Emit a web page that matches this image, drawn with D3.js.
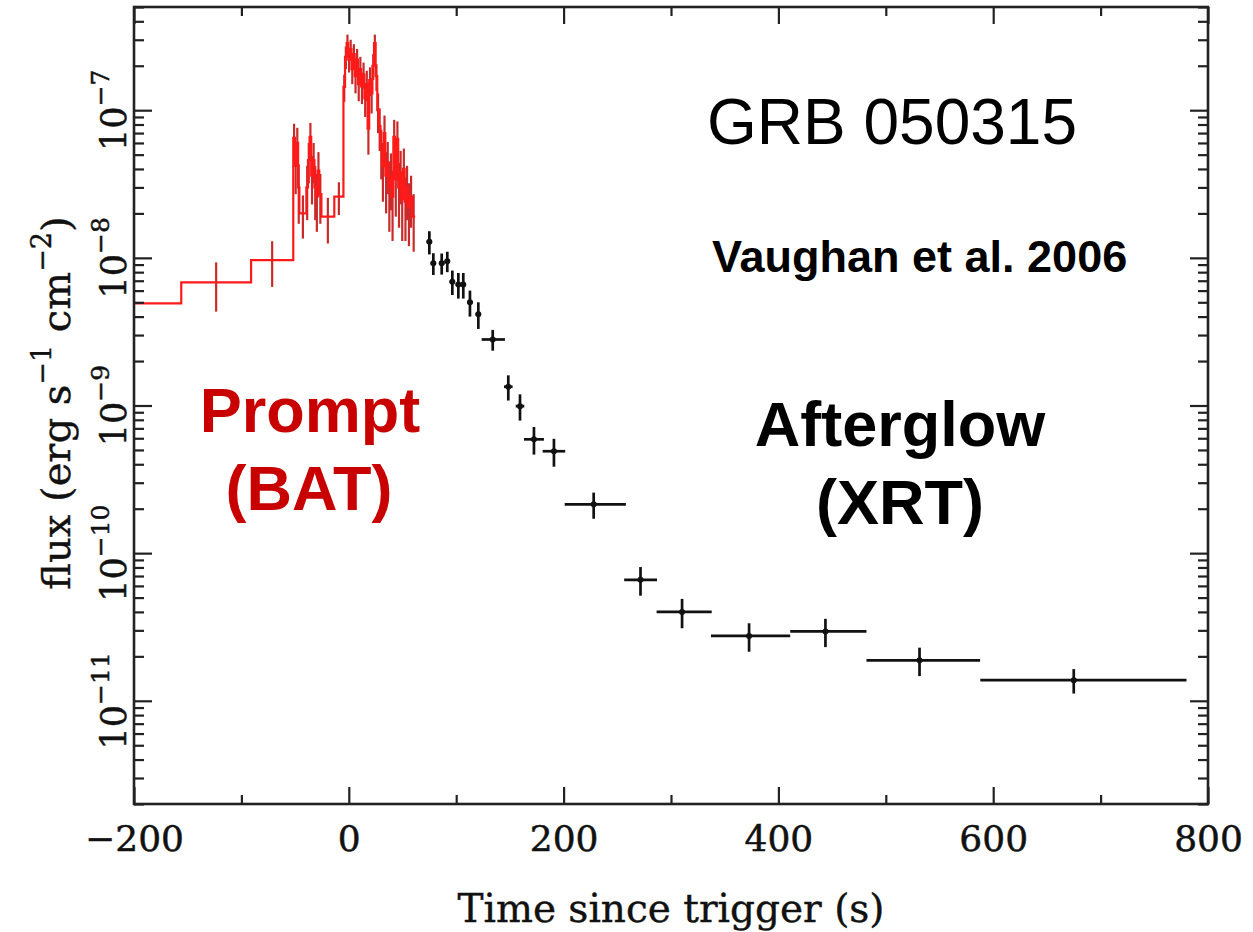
<!DOCTYPE html>
<html>
<head>
<meta charset="utf-8">
<script src="https://cdn.jsdelivr.net/npm/d3@7"></script>
<style>
  html, body { margin: 0; padding: 0; background: #ffffff; }
  svg { display: block; }
</style>
</head>
<body>
<svg id="chart" width="1253" height="932"></svg>
<script>
// ---- BAT prompt light curve: histogram bins (s), flux and 1-sigma error (erg s^-1 cm^-2)
const batBinStart = [-260, -156, -91, -51.7, -50.2, -48.7, -47.2, -46.0, -39.5, -38.0, -36.5, -35.0, -33.5, -32.0, -30.5, -29.0, -27.5, -25.5, -13.5,
  -5.0, -3.5, -2.0, -0.5, 1.0, 2.5, 4.0, 5.5, 7.0, 8.5, 10.0, 11.5, 13.0, 14.5, 16.0, 17.5, 19.0, 20.5, 22.0, 23.5, 25.0, 26.5, 28.0, 29.5,
  31.0, 32.5, 34.0, 35.5, 37.0, 38.5, 40.0, 41.5, 43.0, 44.5, 46.0, 47.5, 49.0, 50.5, 52.0, 53.5, 55.0, 57.0, 59.0];
const batBinEnd = [-156, -91, -51.7, -50.2, -48.7, -47.2, -46.0, -39.5, -38.0, -36.5, -35.0, -33.5, -32.0, -30.5, -29.0, -27.5, -25.5, -13.5, -5.0,
  -3.5, -2.0, -0.5, 1.0, 2.5, 4.0, 5.5, 7.0, 8.5, 10.0, 11.5, 13.0, 14.5, 16.0, 17.5, 19.0, 20.5, 22.0, 23.5, 25.0, 26.5, 28.0, 29.5, 31.0,
  32.5, 34.0, 35.5, 37.0, 38.5, 40.0, 41.5, 43.0, 44.5, 46.0, 47.5, 49.0, 50.5, 52.0, 53.5, 55.0, 57.0, 59.0, 61.8];
const batFlux = [4.92e-9, 6.82e-9, 9.66e-9, 6.5e-8, 4.2e-8, 6.0e-8, 3.0e-8, 2.0e-8, 3.0e-8, 4.6e-8, 6.6e-8, 3.6e-8, 4.6e-8, 3.0e-8, 2.6e-8, 3.9e-8, 2.7e-8, 1.9e-8, 2.6e-8,
  1.44e-7, 2.3e-7, 2.85e-7, 2.2e-7, 2.6e-7, 1.9e-7, 2.4e-7, 1.7e-7, 2.2e-7, 1.5e-7, 1.9e-7, 1.45e-7, 1.75e-7, 1.2e-7, 1.5e-7, 7.5e-8, 1.6e-7, 1.3e-7, 2.0e-7, 2.85e-7, 1.7e-7, 1.0e-7, 7.8e-8, 5.4e-8,
  4.2e-8, 7.0e-8, 3.6e-8, 4.4e-8, 3.0e-8, 3.6e-8, 2.6e-8, 6.6e-8, 3.4e-8, 6.4e-8, 3.0e-8, 3.8e-8, 2.5e-8, 4.0e-8, 2.4e-8, 3.0e-8, 2.2e-8, 2.6e-8, 1.9e-8];
const batFluxErr = [2.4e-9, 2.5e-9, 3.3e-9, 1.6e-8, 1.5e-8, 1.6e-8, 1.3e-8, 6.5e-9, 1.2e-8, 1.4e-8, 1.6e-8, 1.3e-8, 1.4e-8, 1.2e-8, 1.1e-8, 1.3e-8, 1.0e-8, 6.5e-9, 6.5e-9,
  3.0e-8, 4.0e-8, 4.0e-8, 4.0e-8, 4.0e-8, 4.0e-8, 4.0e-8, 4.0e-8, 4.0e-8, 3.5e-8, 4.0e-8, 3.5e-8, 3.5e-8, 3.0e-8, 3.5e-8, 2.5e-8, 3.5e-8, 3.5e-8, 4.0e-8, 4.0e-8, 3.5e-8, 3.0e-8, 2.5e-8, 2.0e-8,
  1.8e-8, 2.2e-8, 1.6e-8, 1.7e-8, 1.5e-8, 1.5e-8, 1.3e-8, 2.0e-8, 1.5e-8, 2.0e-8, 1.4e-8, 1.5e-8, 1.2e-8, 1.5e-8, 1.1e-8, 1.2e-8, 1.0e-8, 1.0e-8, 8.0e-9];

// ---- XRT afterglow points: time (s), asymmetric time extent, flux and 1-sigma error
const xrtTime = [75.0, 78.7, 86.5, 91.7, 96.4, 102.0, 106.6, 112.8, 120.6, 134.0, 148.5, 159.4, 172.4, 191.0, 228.0, 271.6, 310.3, 372.7, 443.8, 531.4, 675.0];
const xrtTimeErrLo = [2.5, 2.5, 2.5, 2.5, 2.5, 2.5, 2.5, 2.5, 2.5, 10.3, 4.0, 4.0, 9.3, 10.5, 27.0, 15.2, 23.7, 35.5, 32.8, 49.4, 87.0];
const xrtTimeErrHi = [2.5, 2.5, 2.5, 2.5, 2.5, 2.5, 2.5, 2.5, 2.5, 11.4, 4.0, 4.0, 9.3, 10.5, 30.0, 15.4, 27.6, 38.3, 38.2, 56.4, 105.0];
const xrtFlux = [1.285e-8, 9.2e-9, 9.2e-9, 9.5e-9, 6.9e-9, 6.6e-9, 6.6e-9, 5.0e-9, 4.15e-9, 2.8e-9, 1.34e-9, 9.9e-10, 5.9e-10, 4.9e-10, 2.14e-10, 6.6e-11, 4.0e-11, 2.75e-11, 2.95e-11, 1.88e-11, 1.38e-11];
const xrtFluxErr = [2.3e-9, 1.55e-9, 1.5e-9, 1.5e-9, 1.3e-9, 1.3e-9, 1.3e-9, 1.0e-9, 8.5e-10, 4.5e-10, 2.6e-10, 2.0e-10, 1.25e-10, 1.05e-10, 4.3e-11, 1.45e-11, 9e-12, 6e-12, 6.4e-12, 4.1e-12, 2.6e-12];

// ---- axis ticks and labels
const xMajorTicks = [-200, 0, 200, 400, 600, 800];
const xMinorTicks = [-100, 100, 300, 500, 700];
const yMajorTicks = [1e-11, 1e-10, 1e-9, 1e-8, 1e-7];
const yTickExponents = ["\u221211", "\u221210", "\u22129", "\u22128", "\u22127"];

// ---- layout
const plot = { left: 134, right: 1208, top: 7, bottom: 804 };
const axisColor = "#222222";
const textColor = "#111111";
const tickFont = "'DejaVu Serif', serif";
const labelFont = "'Liberation Sans', Arial, sans-serif";

const x = d3.scaleLinear().domain([-200, 800]).range([plot.left, plot.right]);
const y = d3.scaleLog().domain([2e-12, 5e-7]).range([plot.bottom, plot.top]);

const svg = d3.select("#chart");
svg.append("rect").attr("width", 1253).attr("height", 932).attr("fill", "#ffffff");

svg.append("defs").append("clipPath").attr("id", "plotClip")
  .append("rect")
  .attr("x", plot.left).attr("y", plot.top)
  .attr("width", plot.right - plot.left).attr("height", plot.bottom - plot.top);

const data = svg.append("g").attr("clip-path", "url(#plotClip)");

// BAT histogram drawn as a stepped line with error bars at bin centres
const batBins = batFlux.map((f, i) => ({ t0: batBinStart[i], t1: batBinEnd[i], f, e: batFluxErr[i] }));
const stepPoints = batBins.flatMap(b => [[b.t0, b.f], [b.t1, b.f]]);
const line = d3.line().x(d => x(d[0])).y(d => y(d[1]));

data.append("g").selectAll("line").data(batBins).join("line")
  .attr("x1", d => x((d.t0 + d.t1) / 2)).attr("x2", d => x((d.t0 + d.t1) / 2))
  .attr("y1", d => y(d.f + d.e)).attr("y2", d => y(Math.max(d.f - d.e, 1e-13)))
  .attr("stroke", "#c92a2a").attr("stroke-width", 2.2);

data.append("path").attr("d", line(stepPoints))
  .attr("fill", "none").attr("stroke", "#ff1a1a").attr("stroke-width", 2.2)
  .attr("stroke-linejoin", "miter");

// XRT points with error crosses
const xrt = xrtFlux.map((f, i) => ({ t: xrtTime[i], lo: xrtTimeErrLo[i], hi: xrtTimeErrHi[i], f, e: xrtFluxErr[i] }));
const xg = data.append("g").selectAll("g").data(xrt).join("g");
xg.append("line")
  .attr("x1", d => x(d.t - d.lo)).attr("x2", d => x(d.t + d.hi))
  .attr("y1", d => y(d.f)).attr("y2", d => y(d.f))
  .attr("stroke", "#111").attr("stroke-width", 2.7);
xg.append("line")
  .attr("x1", d => x(d.t)).attr("x2", d => x(d.t))
  .attr("y1", d => y(d.f + d.e)).attr("y2", d => y(d.f - d.e))
  .attr("stroke", "#111").attr("stroke-width", 2.7);
xg.append("circle")
  .attr("cx", d => x(d.t)).attr("cy", d => y(d.f)).attr("r", 3)
  .attr("fill", "#111");

// ---- axes: ticks point inward on all four sides
function styleAxis(g) {
  g.select(".domain").remove();
  g.selectAll(".tick line").attr("stroke", axisColor).attr("stroke-width", 2.2);
}
const yMinorTicks = y.ticks().filter(v => !yMajorTicks.some(m => Math.abs(m - v) / m < 1e-6));

svg.append("g").attr("transform", `translate(0,${plot.bottom})`)
  .call(d3.axisBottom(x).tickValues(xMajorTicks).tickSizeInner(-17).tickSizeOuter(0)
    .tickPadding(21).tickFormat(d3.format("d")))
  .call(styleAxis)
  .call(g => g.selectAll(".tick text")
    .attr("font-family", tickFont).attr("font-size", 36)
    .attr("fill", textColor).attr("stroke", textColor).attr("stroke-width", 0.5));
svg.append("g").attr("transform", `translate(0,${plot.bottom})`)
  .call(d3.axisBottom(x).tickValues(xMinorTicks).tickSizeInner(-9).tickSizeOuter(0).tickFormat(""))
  .call(styleAxis);
svg.append("g").attr("transform", `translate(0,${plot.top})`)
  .call(d3.axisTop(x).tickValues(xMajorTicks).tickSizeInner(-17).tickSizeOuter(0).tickFormat(""))
  .call(styleAxis);
svg.append("g").attr("transform", `translate(0,${plot.top})`)
  .call(d3.axisTop(x).tickValues(xMinorTicks).tickSizeInner(-9).tickSizeOuter(0).tickFormat(""))
  .call(styleAxis);

svg.append("g").attr("transform", `translate(${plot.left},0)`)
  .call(d3.axisLeft(y).tickValues(yMajorTicks).tickSizeInner(-18).tickSizeOuter(0).tickFormat(""))
  .call(styleAxis);
svg.append("g").attr("transform", `translate(${plot.left},0)`)
  .call(d3.axisLeft(y).tickValues(yMinorTicks).tickSizeInner(-10).tickSizeOuter(0).tickFormat(""))
  .call(styleAxis);
svg.append("g").attr("transform", `translate(${plot.right},0)`)
  .call(d3.axisRight(y).tickValues(yMajorTicks).tickSizeInner(-18).tickSizeOuter(0).tickFormat(""))
  .call(styleAxis);
svg.append("g").attr("transform", `translate(${plot.right},0)`)
  .call(d3.axisRight(y).tickValues(yMinorTicks).tickSizeInner(-10).tickSizeOuter(0).tickFormat(""))
  .call(styleAxis);

// frame
svg.append("rect")
  .attr("x", plot.left).attr("y", plot.top)
  .attr("width", plot.right - plot.left).attr("height", plot.bottom - plot.top)
  .attr("fill", "none").attr("stroke", axisColor).attr("stroke-width", 2.6);

// rotated power-of-ten labels on the flux axis
const yLabelBase = 126;
yMajorTicks.forEach((v, i) => {
  const cy = y(v);
  const t = svg.append("text")
    .attr("x", yLabelBase).attr("y", cy)
    .attr("transform", `rotate(-90, ${yLabelBase}, ${cy})`)
    .attr("text-anchor", "middle")
    .attr("font-family", tickFont).attr("font-size", 35)
    .attr("fill", textColor).attr("stroke", textColor).attr("stroke-width", 0.5);
  t.append("tspan").text("10");
  t.append("tspan").attr("dy", -17).attr("font-size", 25).text(yTickExponents[i]);
});

// axis titles
svg.append("text")
  .attr("x", 671).attr("y", 922)
  .attr("text-anchor", "middle")
  .attr("font-family", tickFont).attr("font-size", 39)
  .attr("fill", textColor).attr("stroke", textColor).attr("stroke-width", 0.4)
  .text("Time since trigger (s)");

const ytX = 70, ytY = 403;
const yt = svg.append("text")
  .attr("x", ytX).attr("y", ytY)
  .attr("transform", `rotate(-90, ${ytX}, ${ytY})`)
  .attr("text-anchor", "middle")
  .attr("font-family", tickFont).attr("font-size", 40)
  .attr("fill", textColor).attr("stroke", textColor).attr("stroke-width", 0.4);
yt.append("tspan").text("flux (erg s");
yt.append("tspan").attr("dy", -19).attr("font-size", 27).text("\u22121");
yt.append("tspan").attr("dy", 19).text(" cm");
yt.append("tspan").attr("dy", -19).attr("font-size", 27).text("\u22122");
yt.append("tspan").attr("dy", 19).text(")");

// annotations
svg.append("text").attr("x", 707).attr("y", 143.5)
  .attr("font-family", labelFont).attr("font-size", 64).attr("fill", "#000")
  .text("GRB 050315");
svg.append("text").attr("x", 712).attr("y", 272)
  .attr("font-family", labelFont).attr("font-size", 45).attr("font-weight", "bold").attr("fill", "#000")
  .text("Vaughan et al. 2006");

const promptColor = "#c80000";
svg.append("text").attr("x", 310).attr("y", 432).attr("text-anchor", "middle")
  .attr("font-family", labelFont).attr("font-size", 63).attr("font-weight", "bold").attr("fill", promptColor)
  .text("Prompt");
svg.append("text").attr("x", 309).attr("y", 510).attr("text-anchor", "middle")
  .attr("font-family", labelFont).attr("font-size", 63).attr("font-weight", "bold").attr("fill", promptColor)
  .text("(BAT)");
svg.append("text").attr("x", 900).attr("y", 446).attr("text-anchor", "middle")
  .attr("font-family", labelFont).attr("font-size", 63).attr("font-weight", "bold").attr("fill", "#000")
  .text("Afterglow");
svg.append("text").attr("x", 900).attr("y", 524).attr("text-anchor", "middle")
  .attr("font-family", labelFont).attr("font-size", 63).attr("font-weight", "bold").attr("fill", "#000")
  .text("(XRT)");
</script>
</body>
</html>
